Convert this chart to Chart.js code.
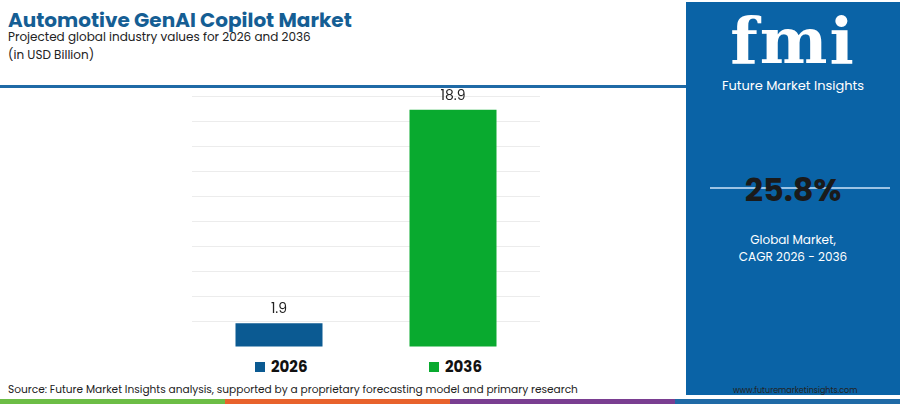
<!DOCTYPE html>
<html>
<head>
<meta charset="utf-8">
<script src="https://cdn.jsdelivr.net/npm/chart.js@4"></script>
<style>
body { margin: 0; width: 900px; height: 404px; background: #fff; font-family: Poppins, "Open Sans", sans-serif; position: relative; overflow: hidden; }
#title { position: absolute; left: 8px; top: 5px; font-size: 20px; font-weight: bold; color: #155e94; }
#sub { position: absolute; left: 8px; top: 28px; font-size: 12px; color: #222; line-height: 18px; }
#rule { position: absolute; left: 0; top: 85px; width: 686px; height: 3px; background: #1f6aa6; }
#wrap { position: absolute; left: 180px; top: 86px; width: 370px; height: 261px; }
#legend { position: absolute; top: 355px; left: 0; width: 685px; }
.lg { position: absolute; font-size: 15px; font-weight: bold; color: #111; }
.lg i { display: inline-block; width: 10px; height: 10px; margin-right: 6px; }
#panel { position: absolute; left: 686px; top: 2px; width: 214px; height: 393px; background: #0a63a6; color: #fff; text-align: center; }
#logo { position: absolute; top: 4px; width: 100%; font-family: "DejaVu Serif", serif; font-weight: bold; font-size: 64px; line-height: 70px; letter-spacing: 2px; }
#fmi { position: absolute; top: 74px; width: 100%; font-size: 13px; }
#cagrline { position: absolute; top: 185px; left: 24px; width: 180px; height: 2px; background: #9cc3e4; }
#cagr { position: absolute; top: 164px; width: 100%; font-size: 32px; font-weight: bold; color: #1a1a1a; }
#gm { position: absolute; top: 229px; width: 100%; font-size: 12px; line-height: 17px; }
#src { position: absolute; left: 8px; top: 382px; font-size: 10.6px; color: #222; }
#url { position: absolute; left: 733px; top: 385px; font-size: 8px; color: #222; }
#foot { position: absolute; left: 0; top: 399px; width: 900px; height: 5px; display: flex; }
</style>
</head>
<body>
<div id="title">Automotive GenAI Copilot Market</div>
<div id="sub">Projected global industry values for 2026 and 2036<br>(in USD Billion)</div>
<div id="rule"></div>
<div id="wrap"><canvas id="c"></canvas></div>
<div id="legend"></div>
<div id="panel">
  <div id="logo">fmi</div>
  <div id="fmi">Future Market Insights</div>
  <div id="cagrline"></div>
  <div id="cagr">25.8%</div>
  <div id="gm">Global Market,<br>CAGR 2026 - 2036</div>
</div>
<div id="src">Source: Future Market Insights analysis, supported by a proprietary forecasting model and primary research</div>
<div id="url">www.futuremarketinsights.com</div>
<div id="foot">
  <div style="flex:1;background:#6cbd45"></div>
  <div style="flex:1;background:#e8622c"></div>
  <div style="flex:1;background:#7a3e91"></div>
  <div style="flex:1;background:#1f6aa6"></div>
</div>
<script>
const years = ["2026", "2036"];
const values = [1.9, 18.9];
const barColors = ["#0b5a92", "#09aa2f"];
const yMax = 20;
const yStep = 2;

const valueLabels = {
    id: "valueLabels",
    afterDatasetsDraw(chart) {
        const ctx = chart.ctx;
        ctx.save();
        ctx.font = "14px Poppins, 'Open Sans', sans-serif";
        ctx.fillStyle = "#222";
        ctx.textAlign = "center";
        chart.getDatasetMeta(0).data.forEach((bar, i) => {
            ctx.fillText(values[i].toFixed(1), bar.x, bar.y - 10);
        });
        ctx.restore();
    }
};

const chart = new Chart(document.getElementById("c"), {
    type: "bar",
    data: {
        labels: years,
        datasets: [{
            data: values,
            backgroundColor: barColors,
            barPercentage: 0.5,
            categoryPercentage: 1
        }]
    },
    options: {
        responsive: true,
        maintainAspectRatio: false,
        animation: false,
        layout: { padding: { left: 12, right: 10, top: 10, bottom: 0 } },
        plugins: { legend: { display: false }, tooltip: { enabled: false } },
        scales: {
            x: { display: false },
            y: {
                min: 0, max: yMax,
                ticks: { display: false, stepSize: yStep },
                border: { display: false },
                grid: { color: "#ececec", drawTicks: false }
            }
        }
    },
    plugins: [valueLabels]
});

const legend = document.getElementById("legend");
chart.getDatasetMeta(0).data.forEach((bar, i) => {
    const d = document.createElement("div");
    d.className = "lg";
    d.style.left = (180 + bar.x - 24) + "px";
    d.innerHTML = `<i style="background:${barColors[i]}"></i>${years[i]}`;
    legend.appendChild(d);
});
</script>
</body>
</html>
